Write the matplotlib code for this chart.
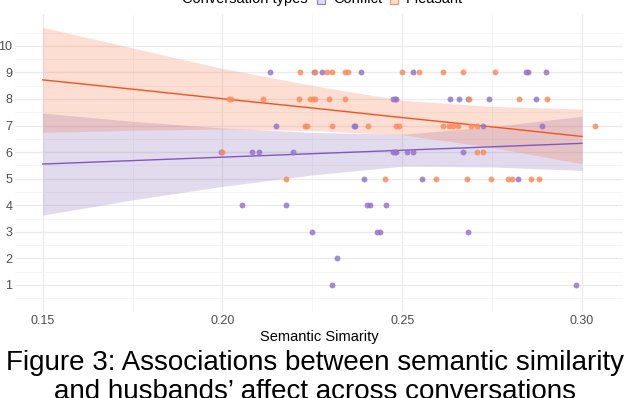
import numpy as np
import matplotlib.pyplot as plt

# Husbands' affect (1-10) vs semantic similarity, by conversation type
conflict_x = [0.2131, 0.2254, 0.2276, 0.2384, 0.2529, 0.2843, 0.2849, 0.2901,
              0.2473, 0.2479, 0.2484, 0.2634, 0.2657, 0.2682, 0.2740, 0.2873,
              0.2148, 0.2365, 0.2370, 0.2726, 0.2890,
              0.1995, 0.2081, 0.2101, 0.2195, 0.2473, 0.2479, 0.2484, 0.2512, 0.2529, 0.2668,
              0.2395, 0.2556, 0.2823,
              0.2053, 0.2176, 0.2403, 0.2409, 0.2456,
              0.2248, 0.2431, 0.2437, 0.2684,
              0.2318,
              0.2306, 0.2984]
conflict_y = [9, 9, 9, 9, 9, 9, 9, 9,
              8, 8, 8, 8, 8, 8, 8, 8,
              7, 7, 7, 7, 7,
              6, 6, 6, 6, 6, 6, 6, 6, 6, 6,
              5, 5, 5,
              4, 4, 4, 4, 4,
              3, 3, 3, 3,
              2,
              1, 1]

pleasant_x = [0.2215, 0.2256, 0.2290, 0.2304, 0.2340, 0.2348, 0.2498, 0.2546, 0.2612, 0.2668, 0.2757,
              0.2018, 0.2023, 0.2112, 0.2212, 0.2243, 0.2251, 0.2256, 0.2295, 0.2340, 0.2687, 0.2826, 0.2904,
              0.2229, 0.2234, 0.2306, 0.2406, 0.2484, 0.2490, 0.2612, 0.2631, 0.2640, 0.2654, 0.2690, 0.2707, 0.3037,
              0.1998, 0.2709, 0.2726,
              0.2176, 0.2451, 0.2595, 0.2679, 0.2748, 0.2793, 0.2806, 0.2859, 0.2879]
pleasant_y = [9] * 11 + [8] * 12 + [7] * 13 + [6] * 3 + [5] * 9

# linear fit + 95% band
smooth_x = [0.15, 0.175, 0.20, 0.225, 0.25, 0.275, 0.30]
conflict_fit = [5.55, 5.68, 5.81, 5.94, 6.07, 6.20, 6.33]
conflict_lo = [3.63, 4.20, 4.71, 5.14, 5.47, 5.44, 5.31]
conflict_hi = [7.47, 7.16, 6.91, 6.74, 6.67, 6.96, 7.35]
pleasant_fit = [8.72, 8.37, 8.01, 7.66, 7.30, 6.95, 6.59]
pleasant_lo = [6.74, 6.82, 6.87, 6.81, 6.65, 6.18, 5.56]
pleasant_hi = [10.70, 9.92, 9.15, 8.51, 7.95, 7.72, 7.62]

x_ticks = [0.15, 0.20, 0.25, 0.30]
y_ticks = list(range(1, 11))

conflict_pt, conflict_line, conflict_fill = "#9575cd", "#7e57c2", "#7b5baf"
pleasant_pt, pleasant_line, pleasant_fill = "#fb8c5c", "#f4511e", "#f86a3a"

plt.rcParams["font.family"] = ["Liberation Sans", "DejaVu Sans"]

fig = plt.figure(figsize=(6.3, 3.98), dpi=100)
ax = fig.add_axes([15 / 630, 1 - 312 / 398, 608 / 630, 298 / 398])

series = [
    (conflict_x, conflict_y, conflict_fit, conflict_lo, conflict_hi, conflict_pt, conflict_line, conflict_fill),
    (pleasant_x, pleasant_y, pleasant_fit, pleasant_lo, pleasant_hi, pleasant_pt, pleasant_line, pleasant_fill),
]
for xs, ys, fit, lo, hi, pc, lc, fc in series:
    ax.fill_between(smooth_x, lo, hi, color=fc, alpha=0.22, lw=0, zorder=2)
for xs, ys, fit, lo, hi, pc, lc, fc in series:
    ax.plot(smooth_x, fit, color=lc, lw=1.0, zorder=3)
for xs, ys, fit, lo, hi, pc, lc, fc in series:
    ax.scatter(xs, ys, s=18, color=pc, alpha=0.85, lw=0, zorder=4)

ax.set_xticks(x_ticks)
ax.set_xticklabels([f"{v:.2f}" for v in x_ticks])
ax.set_xticks([0.175, 0.225, 0.275], minor=True)
ax.set_yticks(y_ticks)
ax.set_yticks(np.arange(0.5, 11.0, 1.0), minor=True)
ax.set_xlim(0.1423, 0.3114)
ax.set_ylim(-0.02, 11.2)
ax.grid(True, which="major", color="#ebebeb", lw=0.9, zorder=0)
ax.grid(True, which="minor", color="#f4f4f4", lw=0.6, zorder=0)
ax.set_axisbelow(True)
for sp in ax.spines.values():
    sp.set_visible(False)
ax.tick_params(which="both", length=0, labelsize=9, labelcolor="#4d4d4d")
ax.tick_params(axis="x", pad=2)
ax.tick_params(axis="y", pad=2)
ax.set_xlabel("Semantic Simarity", fontsize=10.5, labelpad=2)

# legend strip (cut off at the top of the image)
ly = 1.002
fig.text(182 / 630, ly, "Conversation types", fontsize=10.5, va="center", ha="left")
for x0, fc, ec, lab in [(317, "#e2daee", conflict_pt, "Conflict"),
                        (390, "#fddfd1", pleasant_pt, "Pleasant")]:
    fig.patches.append(plt.Rectangle((x0 / 630, ly - 0.012), 8 / 630, 0.024,
                                     transform=fig.transFigure, facecolor=fc,
                                     edgecolor=ec, lw=0.8))
    fig.text((x0 + 16) / 630, ly, lab, fontsize=10.5, va="center", ha="left")

fig.text(0.5, 1 - 363 / 398, "Figure 3: Associations between semantic similarity",
         fontsize=20, ha="center", va="center")
fig.text(0.5, 1 - 392 / 398, "and husbands\u2019 affect across conversations",
         fontsize=20, ha="center", va="center")

fig.savefig("out.png", dpi=100)
